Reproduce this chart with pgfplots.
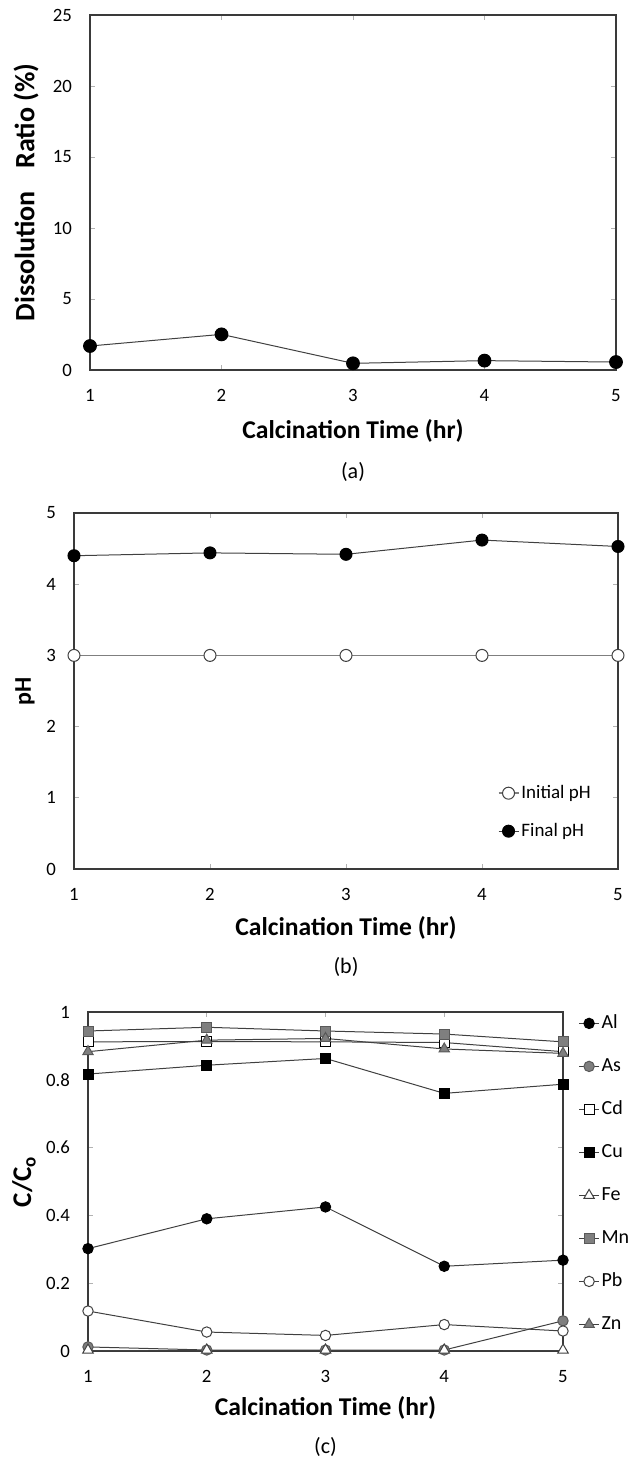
\documentclass[border=0pt]{standalone}
\usepackage{fontspec}
\setmainfont{Carlito}
\usepackage{pgfplots}
\pgfplotsset{compat=1.18}

\definecolor{linegray}{HTML}{404040}
\definecolor{markgray}{HTML}{7F7F7F}
\definecolor{framegray}{HTML}{3A3A3A}

\tikzset{panel label/.style={font=\fontsize{11}{13}\selectfont}}
\pgfplotsset{
  panel/.style={
    scale only axis, clip=false,
    axis line style={framegray, line width=0.8pt},
    tick align=inside, major tick length=2.5pt,
    tick style={gray!60, line width=0.4pt},
    xmin=1, xmax=5, xtick={1,...,5},
    /pgf/number format/assume math mode=true,
    ticklabel style={font=\fontsize{9.4}{11}\selectfont},
    xticklabel style={anchor=base, yshift=-15.5pt},
    yticklabel style={xshift=-5.5pt},
    xlabel style={font=\fontsize{12.8}{15}\selectfont\bfseries},
    xlabel={Calcination Time (hr)},
    xlabel style={at={(axis description cs:0.5,0)}, anchor=center},
    ylabel style={at={(axis description cs:0,0.5)}, anchor=center},
    every axis plot/.append style={line width=0.5pt, color=linegray},
    legend image code/.code={\draw[mark repeat=2,mark phase=2] plot coordinates {(0pt,0pt)(5pt,0pt)(10pt,0pt)};},
    legend cell align=left,
  },
}

\begin{document}
\begin{tikzpicture}
\useasboundingbox (0,0) rectangle (313.5pt,-728.5pt);

% (a) dissolution ratio
\begin{axis}[panel, at={(45pt,-7.5pt)}, anchor=north west,
  width=263pt, height=177.5pt,
  ymin=0, ymax=25, ytick={0,5,...,25},
  ylabel={Dissolution\hspace{0.8em}Ratio (\%)},
  xlabel style={yshift=-30.5pt},
  ylabel style={yshift=32pt, font=\fontsize{14}{16}\selectfont\bfseries}]
\addplot[mark=*, mark size=3.2pt, mark options={fill=black, draw=black}]
  coordinates {(1,1.69) (2,2.51) (3,0.47) (4,0.66) (5,0.56)};
\node[panel label] at (axis description cs:0.5,0) [yshift=-51pt] {(a)};
\end{axis}

% (b) pH
\begin{axis}[panel, at={(37pt,-256.5pt)}, anchor=north west,
  width=272pt, height=178pt,
  ymin=0, ymax=5, ytick={0,...,5},
  ylabel={pH},
  xlabel style={yshift=-29.5pt},
  ylabel style={yshift=24.5pt, font=\fontsize{12}{14}\selectfont\bfseries},
  legend style={at={(axis description cs:0.778,0.245)}, anchor=north west,
    draw=none, fill=none, inner sep=0pt, row sep=8pt,
    font=\fontsize{9.5}{11}\selectfont,
    nodes={text height=7pt, text depth=2pt, inner sep=1pt}}]
\addplot[color=markgray, line width=0.9pt, mark=*, mark size=3pt,
  mark options={fill=white, draw=linegray, line width=0.5pt}]
  coordinates {(1,3) (2,3) (3,3) (4,3) (5,3)};
\addplot[mark=*, mark size=3pt, mark options={fill=black, draw=black}]
  coordinates {(1,4.40) (2,4.44) (3,4.42) (4,4.62) (5,4.53)};
\legend{Initial pH, Final pH}
\node[panel label] at (axis description cs:0.5,0) [yshift=-49pt] {(b)};
\end{axis}

% (c) C/Co
\begin{axis}[panel, at={(44pt,-506pt)}, anchor=north west,
  width=237.5pt, height=169.5pt,
  ymin=0, ymax=1, ytick={0,0.2,...,1},
  ylabel={C/C\textsubscript{o}},
  xlabel style={yshift=-28.5pt},
  ylabel style={yshift=32pt, font=\fontsize{13.5}{15}\selectfont\bfseries},
  legend style={at={(axis description cs:1.032,1.0)}, anchor=north west,
    draw=none, fill=none, inner sep=0pt, row sep=10.5pt,
    font=\fontsize{10}{12}\selectfont,
    nodes={text height=7pt, text depth=2pt, inner sep=1pt}}]
% Al
\addplot[mark=*, mark size=2.6pt, mark options={fill=black, draw=black}]
  coordinates {(1,0.302) (2,0.390) (3,0.425) (4,0.250) (5,0.268)};
% As
\addplot[mark=*, mark size=2.6pt, mark options={fill=markgray, draw=markgray!70!black}]
  coordinates {(1,0.012) (2,0.003) (3,0.003) (4,0.003) (5,0.089)};
% Cd
\addplot[mark=square*, mark size=2.5pt, mark options={fill=white, draw=black}]
  coordinates {(1,0.912) (2,0.913) (3,0.912) (4,0.910) (5,0.883)};
% Cu
\addplot[mark=square*, mark size=2.5pt, mark options={fill=black, draw=black}]
  coordinates {(1,0.817) (2,0.843) (3,0.863) (4,0.760) (5,0.787)};
% Fe
\addplot[mark=triangle*, mark size=3pt, mark options={fill=white, draw=linegray}]
  coordinates {(1,0.003) (2,0.003) (3,0.003) (4,0.003) (5,0.003)};
% Mn
\addplot[mark=square*, mark size=2.5pt, mark options={fill=markgray, draw=markgray!70!black}]
  coordinates {(1,0.944) (2,0.955) (3,0.944) (4,0.935) (5,0.912)};
% Pb
\addplot[mark=*, mark size=2.6pt, mark options={fill=white, draw=linegray}]
  coordinates {(1,0.118) (2,0.056) (3,0.046) (4,0.078) (5,0.059)};
% Zn
\addplot[mark=triangle*, mark size=3pt, mark options={fill=markgray, draw=markgray!70!black}]
  coordinates {(1,0.883) (2,0.917) (3,0.922) (4,0.891) (5,0.878)};
\legend{Al, As, Cd, Cu, Fe, Mn, Pb, Zn}
\node[panel label] at (axis description cs:0.5,0) [yshift=-48pt] {(c)};
\end{axis}
\end{tikzpicture}
\end{document}
